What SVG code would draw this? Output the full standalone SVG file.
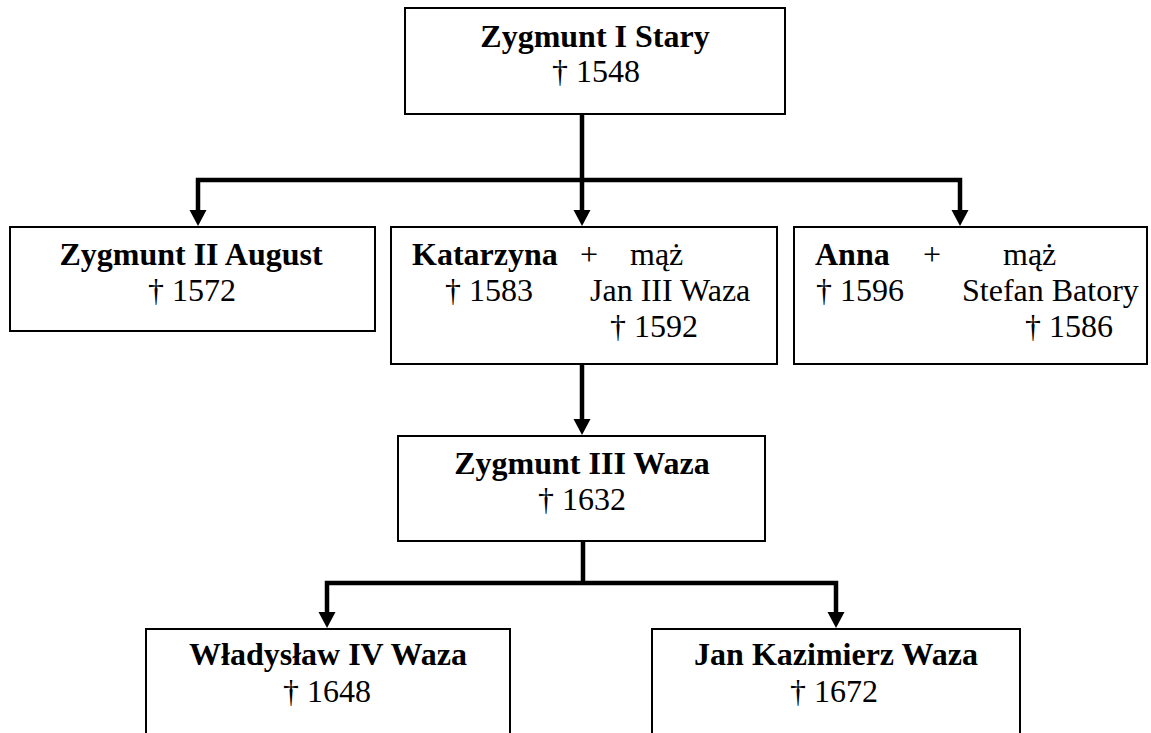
<svg xmlns="http://www.w3.org/2000/svg" width="1151" height="733" viewBox="0 0 1151 733">
<style>
.box{fill:#fff;stroke:#000;stroke-width:2}
.t{font-family:"Liberation Serif","Times New Roman",serif;font-size:32px;fill:#000}
.b{font-weight:bold}
.m{text-anchor:middle}
.c{fill:none;stroke:#000;stroke-width:4.5;stroke-linejoin:miter}
.ah{fill:#000}
</style>
<defs>
<path id="arr" d="M-8.5,-16 L8.5,-16 L0,0 Z"/>
</defs>
<rect width="1151" height="733" fill="#fff"/>
<g id="connectors">
<path class="c" d="M582,114 V180 M198,212 V180 H960 V212 M582,180 V212"/>
<use href="#arr" x="198" y="226" class="ah"/>
<use href="#arr" x="582" y="226" class="ah"/>
<use href="#arr" x="960" y="226" class="ah"/>
<path class="c" d="M582,364 V421"/>
<use href="#arr" x="582" y="435" class="ah"/>
<path class="c" d="M583,541 V583 M327,614 V583 H836 V614"/>
<use href="#arr" x="327" y="628" class="ah"/>
<use href="#arr" x="836" y="628" class="ah"/>
</g>
<g id="zygmunt1">
<rect class="box" x="405" y="8" width="380" height="106"/>
<text class="t b m" x="595" y="47">Zygmunt I Stary</text>
<text class="t m" x="596" y="82">† 1548</text>
</g>
<g id="zygmunt2">
<rect class="box" x="10" y="227" width="365" height="104"/>
<text class="t b m" x="191" y="265">Zygmunt II August</text>
<text class="t m" x="192" y="301">† 1572</text>
</g>
<g id="katarzyna">
<rect class="box" x="391" y="227" width="386" height="137"/>
<text class="t b" x="412" y="265">Katarzyna</text>
<text class="t" x="580" y="265">+</text>
<text class="t" x="630" y="265">mąż</text>
<text class="t" x="445" y="301">† 1583</text>
<text class="t" x="590" y="301">Jan III Waza</text>
<text class="t" x="610" y="337">† 1592</text>
</g>
<g id="anna">
<rect class="box" x="794" y="227" width="353" height="137"/>
<text class="t b" x="815" y="265">Anna</text>
<text class="t" x="923" y="265">+</text>
<text class="t" x="1003" y="265">mąż</text>
<text class="t" x="816" y="301">† 1596</text>
<text class="t" x="962" y="301">Stefan Batory</text>
<text class="t" x="1025" y="337">† 1586</text>
</g>
<g id="zygmunt3">
<rect class="box" x="398" y="436" width="367" height="105"/>
<text class="t b m" x="582" y="474">Zygmunt III Waza</text>
<text class="t m" x="582" y="510">† 1632</text>
</g>
<g id="wladyslaw">
<rect class="box" x="146" y="629" width="364" height="130"/>
<text class="t b m" x="328" y="665">Władysław IV Waza</text>
<text class="t m" x="327" y="702">† 1648</text>
</g>
<g id="jankazimierz">
<rect class="box" x="652" y="629" width="368" height="130"/>
<text class="t b m" x="836" y="665">Jan Kazimierz Waza</text>
<text class="t m" x="834" y="702">† 1672</text>
</g>
</svg>
